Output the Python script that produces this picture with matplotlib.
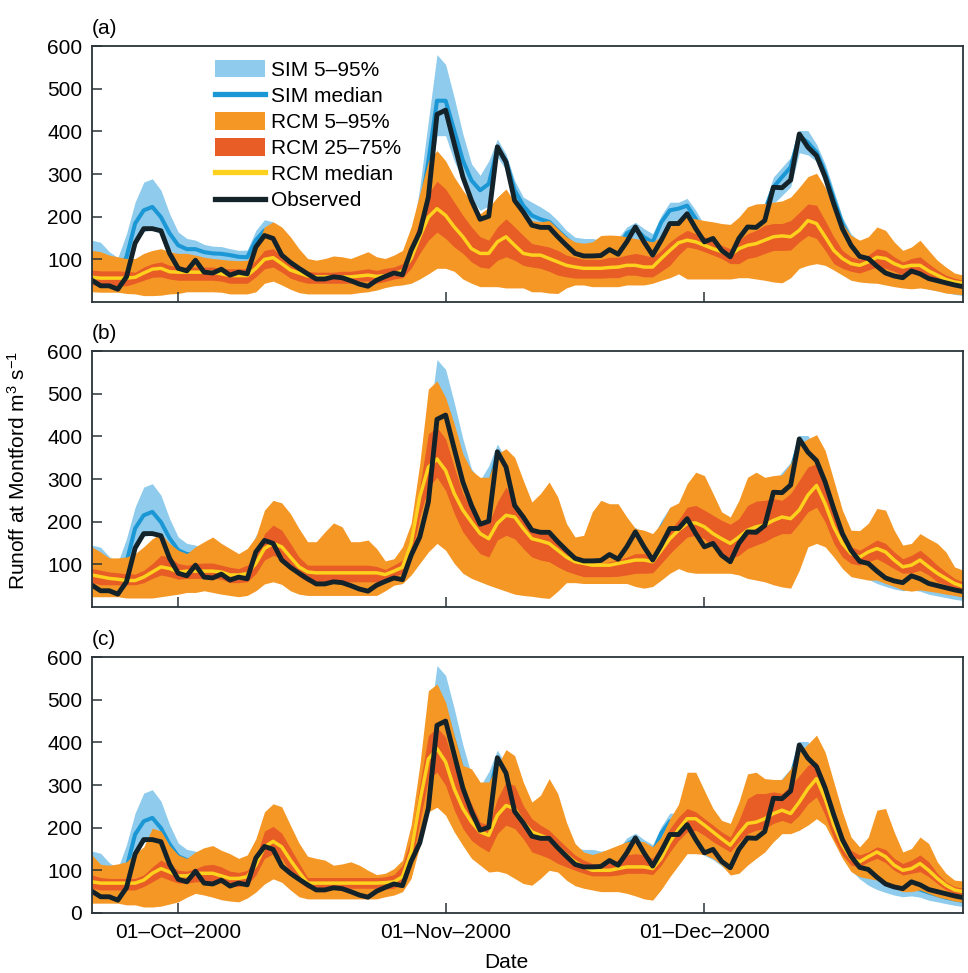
import numpy as np
import matplotlib
matplotlib.use('Agg')
import matplotlib.pyplot as plt
import matplotlib.dates as mdates
from matplotlib.patches import Patch
from matplotlib.lines import Line2D

plt.rcParams['font.family'] = ['Liberation Sans', 'DejaVu Sans']
plt.rcParams['mathtext.default'] = 'regular'
plt.rcParams['font.size'] = 15

# daily values, 21-Sep-2000 .. 31-Dec-2000
days = np.arange('2000-09-21', '2001-01-01', dtype='datetime64[D]')

observed = [51, 38, 38, 30, 59, 138, 172, 172, 167, 114,
            79, 73, 98, 70, 68, 77, 63, 70, 66, 129,
            156, 149, 110, 93, 79, 66, 54, 54, 59, 57,
            50, 42, 37, 51, 60, 68, 64, 121, 164, 246,
            440, 450, 371, 293, 238, 194, 201, 364, 328, 238,
            211, 180, 175, 175, 153, 133, 114, 108, 108, 109,
            123, 112, 141, 176, 141, 110, 145, 184, 184, 207,
            172, 141, 149, 121, 106, 149, 176, 175, 191, 269,
            268, 286, 394, 363, 343, 293, 230, 172, 133, 107,
            102, 84, 68, 61, 57, 73, 66, 55, 50, 45,
            40, 36]

sim_med = [88, 84, 80, 76, 105, 184, 215, 223, 199, 161,
           133, 124, 124, 117, 114, 113, 110, 106, 105, 145,
           168, 165, 130, 105, 88, 72, 60, 58, 60, 60,
           55, 48, 44, 52, 60, 66, 70, 125, 205, 330,
           472, 472, 402, 332, 285, 262, 277, 359, 332, 262,
           226, 203, 194, 188, 168, 149, 129, 121, 120, 118,
           125, 125, 161, 172, 152, 140, 187, 215, 219, 226,
           195, 160, 150, 130, 115, 150, 175, 180, 215, 269,
           293, 316, 390, 374, 351, 304, 242, 184, 145, 121,
           105, 90, 75, 65, 58, 60, 55, 48, 42, 36,
           32, 28]

sim_hi = [145, 140, 118, 104, 160, 234, 281, 289, 262, 207,
          164, 149, 145, 135, 131, 130, 125, 121, 122, 168,
          193, 188, 150, 120, 100, 82, 70, 68, 70, 70,
          64, 57, 52, 60, 70, 77, 82, 140, 269, 425,
          580, 557, 479, 394, 324, 297, 331, 382, 347, 285,
          246, 234, 223, 210, 191, 168, 152, 149, 149, 145,
          148, 150, 176, 187, 172, 160, 203, 234, 234, 243,
          215, 180, 170, 150, 135, 170, 195, 205, 231, 293,
          316, 339, 402, 402, 370, 324, 262, 199, 160, 141,
          120, 102, 86, 75, 68, 70, 64, 56, 48, 42,
          38, 34]

sim_lo = [65, 62, 58, 55, 70, 140, 165, 170, 160, 125,
          100, 95, 95, 90, 88, 86, 84, 80, 80, 110,
          135, 135, 105, 85, 70, 58, 48, 46, 48, 48,
          44, 38, 35, 42, 48, 52, 55, 100, 160, 260,
          390, 390, 330, 285, 240, 215, 225, 340, 310, 230,
          195, 175, 168, 162, 145, 128, 110, 100, 98, 97,
          100, 102, 130, 145, 130, 120, 160, 185, 190, 195,
          165, 135, 125, 110, 95, 125, 150, 155, 185, 230,
          250, 270, 350, 345, 330, 280, 215, 140, 100, 80,
          65, 55, 48, 42, 38, 40, 37, 30, 26, 22,
          18, 15]

# RCM ensemble, panel (a)
a_p95 = [121, 118, 110, 106, 102, 102, 114, 121, 125, 118,
         114, 114, 110, 105, 102, 100, 98, 97, 98, 128,
         176, 188, 176, 153, 125, 102, 98, 102, 108, 106,
         102, 110, 118, 106, 102, 110, 121, 176, 254, 331,
         355, 331, 293, 262, 234, 207, 222, 246, 265, 234,
         215, 191, 188, 191, 172, 153, 141, 138, 141, 156,
         157, 156, 153, 149, 145, 141, 153, 176, 195, 199,
         195, 191, 188, 184, 182, 199, 223, 230, 231, 234,
         237, 246, 269, 294, 302, 269, 222, 184, 156, 145,
         153, 176, 168, 141, 121, 129, 145, 121, 98, 82,
         68, 63]
a_p75 = [75, 73, 73, 73, 72, 70, 82, 90, 94, 86,
         82, 82, 82, 82, 82, 78, 78, 78, 78, 98,
         121, 125, 106, 90, 78, 72, 70, 70, 70, 72,
         72, 75, 78, 74, 79, 82, 90, 129, 191, 254,
         283, 265, 234, 203, 176, 153, 145, 176, 195, 176,
         156, 137, 133, 129, 121, 110, 105, 100, 100, 100,
         105, 105, 110, 114, 110, 105, 121, 141, 156, 168,
         160, 153, 145, 133, 125, 145, 160, 168, 180, 184,
         184, 191, 210, 230, 227, 191, 153, 121, 106, 100,
         110, 125, 121, 106, 94, 102, 106, 90, 75, 63,
         56, 51]
a_p50 = [58, 56, 56, 56, 56, 58, 68, 77, 79, 71,
         70, 70, 70, 70, 70, 66, 62, 62, 62, 79,
         100, 104, 90, 75, 68, 61, 59, 59, 59, 59,
         59, 61, 63, 60, 62, 66, 73, 102, 153, 199,
         219, 203, 176, 153, 125, 114, 114, 141, 153, 133,
         114, 110, 110, 102, 94, 86, 82, 79, 79, 79,
         81, 82, 86, 86, 82, 82, 102, 121, 139, 145,
         141, 133, 125, 118, 110, 125, 133, 137, 145, 153,
         155, 153, 168, 191, 184, 153, 121, 102, 90, 86,
         94, 105, 102, 90, 82, 86, 86, 73, 63, 53,
         47, 44]
a_p25 = [40, 38, 38, 38, 38, 44, 51, 58, 59, 54,
         51, 51, 51, 51, 51, 49, 44, 44, 44, 59,
         78, 82, 70, 56, 49, 44, 44, 44, 44, 44,
         44, 49, 49, 44, 48, 54, 57, 79, 114, 145,
         164, 149, 129, 114, 94, 82, 79, 98, 106, 98,
         86, 82, 79, 72, 63, 59, 56, 56, 56, 56,
         57, 57, 63, 63, 59, 59, 72, 86, 110, 129,
         125, 118, 110, 102, 90, 90, 102, 106, 114, 121,
         121, 122, 141, 156, 149, 121, 90, 79, 72, 68,
         75, 82, 79, 72, 63, 66, 65, 54, 47, 40,
         36, 33]
a_p5 = [24, 23, 23, 23, 20, 19, 15, 15, 16, 19,
        20, 24, 24, 24, 24, 23, 19, 19, 19, 24,
        44, 49, 40, 30, 22, 19, 19, 19, 19, 19,
        19, 22, 24, 28, 34, 38, 40, 44, 54, 66,
        79, 79, 72, 54, 44, 36, 36, 36, 33, 33,
        33, 24, 24, 21, 20, 33, 40, 40, 36, 36,
        36, 36, 40, 40, 40, 44, 51, 57, 66, 54,
        54, 54, 54, 54, 54, 57, 57, 54, 51, 47,
        45, 57, 79, 86, 90, 86, 75, 63, 51, 47,
        45, 44, 40, 36, 33, 31, 33, 30, 26, 21,
        19, 17]

# RCM ensemble, panel (b)
b_p95 = [141, 129, 115, 115, 117, 125, 141, 160, 172, 149,
         133, 125, 141, 153, 164, 149, 137, 125, 137, 164,
         227, 250, 244, 219, 184, 153, 153, 176, 197, 188,
         153, 153, 157, 137, 108, 113, 141, 196, 336, 511,
         530, 491, 429, 359, 320, 304, 304, 359, 371, 351,
         297, 246, 266, 293, 258, 196, 164, 168, 223, 250,
         242, 242, 211, 184, 180, 172, 196, 234, 244, 289,
         316, 308, 266, 223, 211, 250, 304, 316, 304, 308,
         310, 336, 382, 394, 404, 367, 297, 227, 180, 179,
         196, 231, 227, 180, 145, 149, 172, 160, 149, 129,
         94, 86]
b_p75 = [90, 86, 82, 80, 78, 77, 86, 102, 121, 117,
         102, 98, 102, 103, 103, 98, 93, 90, 98, 117,
         172, 192, 180, 149, 117, 98, 98, 98, 98, 98,
         98, 98, 98, 95, 88, 98, 110, 164, 281, 406,
         421, 394, 328, 266, 227, 203, 196, 246, 281, 250,
         211, 176, 176, 168, 153, 133, 110, 102, 98, 102,
         106, 110, 117, 125, 125, 121, 149, 180, 204, 234,
         238, 227, 215, 203, 194, 207, 238, 248, 250, 254,
         250, 266, 297, 328, 336, 281, 219, 172, 141, 133,
         145, 157, 149, 129, 113, 121, 133, 117, 98, 82,
         67, 59]
b_p50 = [75, 71, 67, 65, 62, 62, 70, 82, 94, 90,
         82, 84, 84, 84, 84, 82, 75, 75, 78, 102,
         137, 149, 141, 117, 94, 82, 80, 80, 80, 80,
         80, 80, 80, 80, 76, 84, 93, 149, 258, 328,
         347, 320, 266, 227, 199, 172, 160, 196, 215, 211,
         184, 160, 155, 149, 133, 117, 106, 102, 98, 98,
         98, 102, 106, 110, 110, 106, 133, 160, 180, 196,
         197, 188, 172, 160, 149, 164, 180, 188, 192, 203,
         211, 207, 227, 262, 285, 242, 188, 149, 125, 117,
         129, 137, 129, 110, 94, 98, 110, 94, 79, 67,
         55, 48]
b_p25 = [57, 52, 52, 52, 52, 52, 57, 67, 75, 71,
         65, 67, 67, 67, 67, 65, 57, 57, 59, 78,
         110, 121, 114, 94, 71, 59, 59, 59, 59, 59,
         59, 59, 59, 59, 61, 71, 79, 117, 211, 281,
         304, 273, 219, 176, 149, 125, 117, 157, 168, 160,
         137, 117, 110, 106, 94, 84, 77, 71, 71, 71,
         71, 72, 75, 79, 79, 80, 102, 125, 145, 164,
         168, 160, 141, 125, 113, 121, 137, 145, 153, 164,
         172, 172, 196, 223, 234, 199, 149, 117, 102, 98,
         106, 113, 102, 90, 79, 80, 86, 75, 59, 52,
         44, 39]
b_p5 = [24, 24, 24, 24, 21, 21, 21, 21, 24, 27,
        30, 34, 34, 38, 34, 30, 27, 24, 27, 38,
        54, 59, 53, 38, 30, 27, 27, 27, 27, 27,
        27, 27, 27, 27, 38, 51, 55, 75, 102, 129,
        149, 133, 102, 79, 67, 59, 51, 44, 37, 30,
        27, 25, 22, 20, 37, 57, 57, 55, 55, 55,
        55, 55, 55, 48, 44, 48, 63, 79, 90, 82,
        79, 79, 79, 79, 79, 75, 67, 63, 59, 52,
        47, 44, 86, 141, 149, 141, 117, 90, 71, 67,
        63, 63, 55, 48, 40, 37, 40, 37, 34, 30,
        27, 23]

# RCM ensemble, panel (c)
c_p95 = [136, 114, 112, 115, 120, 139, 155, 199, 192, 158,
         136, 128, 143, 153, 158, 147, 139, 128, 136, 174,
         237, 256, 249, 206, 164, 133, 128, 124, 112, 115,
         120, 112, 100, 90, 93, 104, 124, 206, 346, 521,
         537, 494, 416, 346, 338, 307, 307, 346, 383, 369,
         307, 260, 276, 315, 280, 213, 163, 143, 137, 143,
         151, 159, 167, 170, 167, 155, 178, 221, 255, 330,
         330, 287, 245, 217, 210, 260, 326, 330, 315, 313,
         313, 338, 377, 396, 417, 377, 307, 237, 178, 155,
         178, 241, 245, 190, 143, 151, 178, 163, 120, 93,
         77, 75]
c_p75 = [89, 83, 81, 81, 81, 81, 89, 108, 124, 112,
         100, 98, 104, 112, 114, 108, 98, 95, 100, 128,
         192, 203, 187, 152, 117, 83, 83, 83, 83, 83,
         83, 83, 83, 83, 85, 90, 112, 174, 299, 416,
         435, 412, 346, 291, 256, 213, 206, 268, 307, 299,
         252, 221, 206, 194, 174, 155, 136, 124, 116, 112,
         116, 124, 136, 139, 136, 128, 159, 198, 225, 245,
         237, 221, 206, 190, 178, 217, 268, 280, 280, 284,
         280, 299, 322, 346, 354, 307, 237, 182, 147, 136,
         143, 155, 149, 128, 116, 124, 136, 120, 93, 73,
         62, 58]
c_p50 = [73, 70, 70, 70, 70, 70, 77, 93, 104, 96,
         87, 87, 93, 93, 93, 87, 81, 81, 85, 112,
         155, 168, 155, 124, 96, 70, 70, 70, 70, 70,
         70, 70, 70, 70, 71, 73, 85, 143, 260, 361,
         385, 354, 291, 245, 213, 190, 182, 229, 252, 245,
         213, 190, 182, 174, 155, 136, 120, 108, 100, 100,
         100, 104, 108, 108, 108, 104, 128, 167, 196, 221,
         221, 206, 190, 174, 159, 186, 210, 213, 221, 233,
         241, 233, 260, 291, 315, 268, 206, 159, 128, 120,
         132, 143, 132, 112, 100, 104, 116, 100, 81, 65,
         54, 50]
c_p25 = [58, 54, 54, 54, 54, 54, 62, 73, 85, 77,
         70, 70, 73, 73, 73, 70, 62, 62, 66, 89,
         128, 139, 128, 96, 73, 58, 58, 58, 58, 58,
         58, 58, 58, 58, 56, 58, 69, 112, 213, 315,
         330, 299, 241, 198, 170, 155, 143, 186, 206, 198,
         174, 143, 136, 128, 116, 108, 100, 93, 87, 87,
         87, 89, 93, 93, 93, 90, 112, 143, 170, 190,
         194, 182, 167, 155, 143, 167, 186, 194, 198, 210,
         217, 210, 229, 256, 272, 229, 174, 136, 112, 108,
         120, 128, 118, 100, 89, 93, 97, 85, 69, 54,
         46, 42]
c_p5 = [23, 23, 23, 23, 19, 19, 14, 14, 16, 21,
        26, 37, 46, 42, 37, 31, 28, 26, 35, 49,
        68, 80, 72, 54, 38, 33, 33, 33, 33, 33,
        33, 33, 33, 33, 38, 42, 50, 81, 158, 237,
        248, 229, 190, 158, 128, 112, 96, 98, 93, 81,
        69, 65, 81, 100, 96, 77, 64, 58, 54, 50,
        50, 50, 46, 40, 33, 30, 55, 85, 112, 139,
        139, 137, 128, 112, 89, 93, 112, 128, 143, 167,
        186, 186, 194, 206, 221, 206, 167, 128, 97, 85,
        81, 77, 69, 58, 50, 50, 54, 46, 38, 33,
        28, 25]

panels = [('(a)', a_p5, a_p25, a_p50, a_p75, a_p95),
          ('(b)', b_p5, b_p25, b_p50, b_p75, b_p95),
          ('(c)', c_p5, c_p25, c_p50, c_p75, c_p95)]

c_simband = '#8ecbec'
c_simmed = '#1a97d4'
c_outer = '#f59725'
c_inner = '#e85c26'
c_med = '#fdd11d'
c_obs = '#14232a'
c_axis = '#2a3438'

fig = plt.figure(figsize=(9.68, 9.73), dpi=100)
bottoms = [0.6896, 0.3762, 0.0617]
axes = []
for i, (lab, p5, p25, p50, p75, p95) in enumerate(panels):
    ax = fig.add_axes([0.095, bottoms[i], 0.9, 0.263])
    # drawing order: SIM band, SIM median, RCM bands, RCM median, observed
    ax.fill_between(days, sim_lo, sim_hi, color=c_simband, lw=0, zorder=1.0)
    ax.plot(days, sim_med, color=c_simmed, lw=2.9, zorder=1.1)
    ax.fill_between(days, p5, p95, color=c_outer, lw=0, zorder=1.2)
    ax.fill_between(days, p25, p75, color=c_inner, lw=0, zorder=1.3)
    ax.plot(days, p50, color=c_med, lw=2.5, zorder=1.4)
    ax.plot(days, observed, color=c_obs, lw=3.5, zorder=1.5)
    ax.set_xlim(days[0], days[-1])
    ax.set_ylim(0, 600)
    ax.xaxis.set_major_locator(mdates.MonthLocator(bymonthday=1))
    ax.xaxis.set_major_formatter(mdates.DateFormatter('%d\u2013%b\u2013%Y'))
    ax.tick_params(direction='in', length=7, width=1.1, color=c_axis,
                   labelsize=15, pad=7, top=False, right=False)
    for s in ax.spines.values():
        s.set_color(c_axis)
        s.set_linewidth(1.3)
    if i < 2:
        ax.set_yticks([100, 200, 300, 400, 500, 600])
        ax.tick_params(labelbottom=False)
    else:
        ax.set_yticks([0, 100, 200, 300, 400, 500, 600])
    ax.text(0.0, 1.03, lab, transform=ax.transAxes, fontsize=15,
            ha='left', va='bottom')
    axes.append(ax)

handles = [Patch(facecolor=c_simband, edgecolor='none'),
           Line2D([], [], color=c_simmed, lw=3.8),
           Patch(facecolor=c_outer, edgecolor='none'),
           Patch(facecolor=c_inner, edgecolor='none'),
           Line2D([], [], color=c_med, lw=3.8),
           Line2D([], [], color=c_obs, lw=3.8)]
labels = ['SIM 5\u201395%', 'SIM median', 'RCM 5\u201395%',
          'RCM 25\u201375%', 'RCM median', 'Observed']
axes[0].legend(handles, labels, loc='upper left', bbox_to_anchor=(0.141, 0.945),
               frameon=False, fontsize=15, handlelength=2.4, handleheight=0.9,
               handletextpad=0.3, labelspacing=0.3, borderpad=0, borderaxespad=0)

fig.text(18 / 968, 1 - 470 / 973, 'Runoff at Montford m$^3$ s$^{-1}$',
         rotation=90, ha='center', va='center', fontsize=15)
fig.text(506 / 968, 1 - 963 / 973, 'Date', ha='center', va='center', fontsize=15)

fig.savefig('out.png', dpi=100)
